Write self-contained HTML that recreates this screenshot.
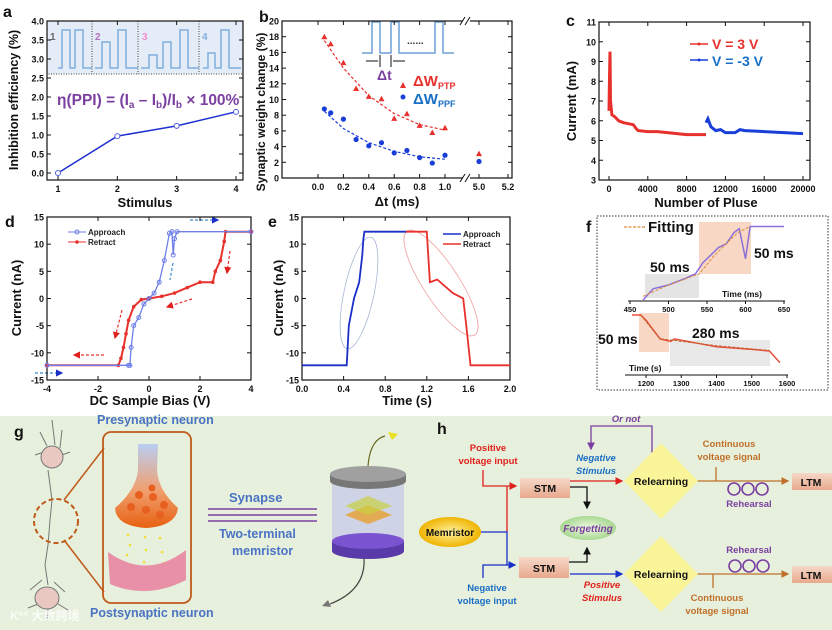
<!DOCTYPE html>
<html><head><meta charset="utf-8"><style>
body{margin:0;background:#fff}
svg{display:block;font-family:"Liberation Sans",Arial,sans-serif}
text{font-weight:bold}
</style></head><body>
<svg id="fig" width="832" height="630" viewBox="0 0 832 630" xmlns="http://www.w3.org/2000/svg">
<defs>
<linearGradient id="stmg" x1="0" y1="0" x2="0" y2="1"><stop offset="0" stop-color="#f6d8c8"/><stop offset="1" stop-color="#e8a98c"/></linearGradient>
<radialGradient id="memg"><stop offset="0" stop-color="#fff2a0"/><stop offset="1" stop-color="#f0b400"/></radialGradient>
<radialGradient id="forg"><stop offset="0" stop-color="#f2fbe8"/><stop offset="1" stop-color="#a8d890"/></radialGradient>
<linearGradient id="bul" x1="0" y1="0" x2="0" y2="1"><stop offset="0" stop-color="#b9cdf2"/><stop offset="0.55" stop-color="#f0a070"/><stop offset="1" stop-color="#e86010"/></linearGradient>
<marker id="arR" markerWidth="6" markerHeight="6" refX="5" refY="3" orient="auto"><path d="M0,0L6,3L0,6z" fill="#e0201c"/></marker>
<marker id="arB" markerWidth="6" markerHeight="6" refX="5" refY="3" orient="auto"><path d="M0,0L6,3L0,6z" fill="#1a2ec8"/></marker>
<marker id="arK" markerWidth="6" markerHeight="6" refX="5" refY="3" orient="auto"><path d="M0,0L6,3L0,6z" fill="#111"/></marker>
<marker id="arO" markerWidth="6" markerHeight="6" refX="5" refY="3" orient="auto"><path d="M0,0L6,3L0,6z" fill="#c0702a"/></marker>
<marker id="arP" markerWidth="6" markerHeight="6" refX="5" refY="3" orient="auto"><path d="M0,0L6,3L0,6z" fill="#7b3fa0"/></marker>
</defs>

<rect x="0" y="416" width="832" height="214" fill="#e6f0dc"/>

<g>
<rect x="47" y="21" width="196" height="53" fill="#e4ecf7" stroke="#444" stroke-dasharray="1,1.5"/>
<line x1="92" y1="21" x2="92" y2="74" stroke="#444" stroke-dasharray="1,1.5"/>
<line x1="138" y1="21" x2="138" y2="74" stroke="#444" stroke-dasharray="1,1.5"/>
<line x1="199" y1="21" x2="199" y2="74" stroke="#444" stroke-dasharray="1,1.5"/>
<path d="M58,68H62V30H70V68H75V30H83V68H92" fill="none" stroke="#80aee0" stroke-width="1.5"/>
<path d="M95,68H102V42H110V68H118V30H126V68H138" fill="none" stroke="#80aee0" stroke-width="1.5"/>
<path d="M141,68H149V55H157V68H163V42H171V68H180V30H188V68H199" fill="none" stroke="#80aee0" stroke-width="1.5"/>
<path d="M203,68H208V53H215V68H221V30H229V68H241" fill="none" stroke="#80aee0" stroke-width="1.5"/>
<text x="50" y="40" font-size="10" fill="#666">1</text>
<text x="95" y="40" font-size="10" fill="#b070c0">2</text>
<text x="142" y="40" font-size="10" fill="#f090d0">3</text>
<text x="202" y="40" font-size="10" fill="#80aee0">4</text>
</g>
<text x="57" y="105" font-size="15.5" fill="#7b3fa0">η(PPI) = (I<tspan font-size="10" dy="3">a</tspan><tspan dy="-3"> – I</tspan><tspan font-size="10" dy="3">b</tspan><tspan dy="-3">)/I</tspan><tspan font-size="10" dy="3">b</tspan><tspan dy="-3"> × 100%</tspan></text>

<g fill="none" stroke="#6fa0d8" stroke-width="1.5">
<path d="M362,53H372V22H380V53H391V22H399V53H435V22H443V53H454"/>
<line x1="366" y1="61" x2="378" y2="61" stroke="#111" stroke-width="1"/>
<line x1="393" y1="61" x2="405" y2="61" stroke="#111" stroke-width="1"/>
<line x1="380" y1="55" x2="380" y2="67" stroke="#111" stroke-width="1"/>
<line x1="391" y1="55" x2="391" y2="67" stroke="#111" stroke-width="1"/>
</g>
<text x="407" y="44" font-size="10" fill="#333">......</text>
<text x="377" y="80" font-size="14" fill="#7b3fa0">Δt</text>
<g>
<path d="M400,88l3,-6l3,6z" fill="#e8302c"/>
<text x="413" y="86" font-size="15" fill="#e8302c">ΔW<tspan font-size="9" dy="3">PTP</tspan></text>
<circle cx="403" cy="97" r="2.5" fill="#1a3ed8"/>
<text x="413" y="104" font-size="15" fill="#1a6fc4">ΔW<tspan font-size="9" dy="3">PPF</tspan></text>
</g>

<g>
<line x1="690" y1="44" x2="708" y2="44" stroke="#e8302c" stroke-width="1.5"/><circle cx="699" cy="44" r="1.5" fill="#e8302c"/>
<text x="712" y="49" font-size="14" fill="#e8302c">V = 3 V</text>
<line x1="690" y1="60" x2="708" y2="60" stroke="#1a3ed8" stroke-width="1.5"/><circle cx="699" cy="60" r="1.5" fill="#1a3ed8"/>
<text x="712" y="66" font-size="14" fill="#1a6fc4">V = -3 V</text>
</g>

<g font-size="8">
<line x1="68" y1="232" x2="86" y2="232" stroke="#6f7fe8"/><circle cx="77" cy="232" r="2" fill="none" stroke="#6f7fe8"/>
<text x="88" y="235" fill="#222">Approach</text>
<line x1="68" y1="242" x2="86" y2="242" stroke="#e8302c"/><circle cx="77" cy="242" r="1.8" fill="#e8302c"/>
<text x="88" y="245" fill="#222">Retract</text>
</g>
<g stroke-dasharray="3,2" stroke-width="1.2">
<line x1="190" y1="220" x2="218" y2="220" stroke="#3a8ad0" marker-end="url(#arB)"/>
<line x1="35" y1="373" x2="62" y2="373" stroke="#3a8ad0" marker-end="url(#arB)"/>
<line x1="104" y1="355" x2="74" y2="355" stroke="#e8302c" marker-end="url(#arR)"/>
<line x1="192" y1="299" x2="167" y2="307" stroke="#e8302c" marker-end="url(#arR)"/>
<line x1="230" y1="251" x2="227" y2="273" stroke="#e8302c" marker-end="url(#arR)"/>
<line x1="122" y1="310" x2="115" y2="338" stroke="#e8302c" marker-end="url(#arR)"/>
<line x1="173" y1="263" x2="170" y2="280" stroke="#3a8ad0"/>
</g>

<g font-size="8">
<line x1="443" y1="234" x2="461" y2="234" stroke="#1a2ec8" stroke-width="1.5"/>
<text x="463" y="237" fill="#222">Approach</text>
<line x1="443" y1="244" x2="461" y2="244" stroke="#e8302c" stroke-width="1.5"/>
<text x="463" y="247" fill="#222">Retract</text>
</g>
<ellipse cx="359" cy="293" rx="15" ry="57" transform="rotate(12 359 293)" fill="none" stroke="#aab8d8" stroke-width="0.8"/>
<ellipse cx="441" cy="283" rx="18" ry="62" transform="rotate(-33 441 283)" fill="none" stroke="#f0a0a0" stroke-width="0.8"/>

<rect x="597" y="216" width="231" height="174" fill="none" stroke="#333" stroke-dasharray="1.5,1.5"/>
<g>
<rect x="645" y="274" width="54" height="24" fill="#e4e4e4"/>
<rect x="699" y="222" width="52" height="52" fill="#f8d8c4"/>
<rect x="639" y="313" width="30" height="39" fill="#f8d8c4"/>
<rect x="670" y="340" width="100" height="26" fill="#e8e8e8"/>
</g>
<g id="fplot"></g>
<line x1="624" y1="227" x2="645" y2="227" stroke="#e08a3a" stroke-dasharray="3,1.5" stroke-width="1.2"/>
<text x="648" y="232" font-size="15" fill="#111">Fitting</text>
<text x="650" y="272" font-size="14" fill="#111">50 ms</text>
<text x="754" y="258" font-size="14" fill="#111">50 ms</text>
<text x="598" y="344" font-size="14" fill="#111">50 ms</text>
<text x="692" y="338" font-size="14" fill="#111">280 ms</text>
<text x="722" y="297" font-size="8.5" fill="#111">Time (ms)</text>
<text x="629" y="371" font-size="8.5" fill="#111">Time (s)</text>

<text x="14" y="437" font-size="16" fill="#111">g</text>
<g stroke="#777" fill="none" stroke-width="1">
<path d="M52,420L55,445M40,432L47,446M62,430L60,448M35,455L44,452M70,452L62,455M48,470L52,500L50,520L48,545L45,565L48,585"/>
<path d="M30,590L42,580M65,592L54,582M28,608L38,604M68,610L58,604M47,620L48,608"/>
<ellipse cx="52" cy="457" rx="11" ry="11" fill="#e8c8c0"/>
<ellipse cx="47" cy="598" rx="12" ry="11" fill="#e8c8c0"/>
<circle cx="56" cy="521" r="22" stroke="#c05a1a" stroke-width="2" stroke-dasharray="5,3"/>
<line x1="64" y1="500" x2="104" y2="448" stroke="#c05a1a" stroke-width="1.5"/>
<line x1="64" y1="540" x2="104" y2="592" stroke="#c05a1a" stroke-width="1.5"/>
</g>
<rect x="103" y="432" width="88" height="171" rx="8" fill="none" stroke="#c05a1a" stroke-width="1.8"/>
<path d="M138,444H158L157,470Q158,490 178,508Q176,526 146,528Q116,526 115,508Q136,490 138,470Z" fill="url(#bul)"/>
<g fill="#e86020">
<circle cx="139" cy="495" r="4"/><circle cx="153" cy="497" r="4"/><circle cx="164" cy="505" r="4"/><circle cx="131" cy="507" r="4"/><circle cx="146" cy="510" r="4"/><circle cx="160" cy="515" r="4"/><circle cx="152" cy="488" r="3.5"/>
</g>
<g fill="#f0e030">
<circle cx="128" cy="535" r="1.3"/><circle cx="130" cy="545" r="1.3"/><circle cx="127" cy="555" r="1.3"/><circle cx="145" cy="537" r="1.3"/><circle cx="146" cy="550" r="1.3"/><circle cx="144" cy="562" r="1.3"/><circle cx="160" cy="538" r="1.3"/><circle cx="162" cy="552" r="1.3"/><circle cx="164" cy="563" r="1.3"/>
</g>
<path d="M108,552Q147,580 186,550L186,580Q147,600 110,584Z" fill="#e890a8"/>
<text x="97" y="424" font-size="12.5" fill="#4a73c4">Presynaptic neuron</text>
<text x="90" y="617" font-size="12.5" fill="#4a73c4">Postsynaptic neuron</text>
<text x="10" y="620" font-size="12" fill="#fff" opacity="0.8" font-family="Liberation Sans, Noto Sans CJK SC, sans-serif">K°° 大数跨境</text>
<text x="229" y="502" font-size="13" fill="#4a73c4">Synapse</text>
<g stroke="#7b3fa0" stroke-width="1.5">
<line x1="208" y1="509" x2="317" y2="509"/><line x1="208" y1="515" x2="317" y2="515"/><line x1="208" y1="521" x2="317" y2="521"/></g>
<text x="219" y="538" font-size="12.5" fill="#4a73c4">Two-terminal</text>
<text x="232" y="555" font-size="12.5" fill="#4a73c4">memristor</text>
<g>
<rect x="332" y="478" width="72" height="66" fill="#c8cce8" opacity="0.8"/>
<path d="M332,541V551A36,8 0 0 0 404,551V541Z" fill="#5a3aa8"/>
<ellipse cx="368" cy="541" rx="36" ry="8" fill="#7a54d0"/>
<path d="M330,474V481A38,8 0 0 0 406,481V474Z" fill="#777"/>
<ellipse cx="368" cy="474" rx="38" ry="8" fill="#a0a0a0"/>
<path d="M345,515L368,505L392,515L368,524Z" fill="#e8a030" opacity="0.8"/>
<path d="M345,506L368,496L392,506L368,515Z" fill="#c8d040" opacity="0.7"/>
<path d="M368,466Q370,440 385,436" stroke="#6a6a20" fill="none" stroke-width="1.2"/>
<path d="M364,558Q366,590 330,604" stroke="#444" fill="none" stroke-width="1.2"/>
<path d="M388,432l10,2l-6,6z" fill="#e8e020"/>
<path d="M328,600l-6,6l9,1z" fill="#777"/>
</g>

<text x="437" y="434" font-size="16" fill="#111">h</text>
<g fill="none" stroke-width="1.3">
<path d="M652,453V426H591V449" stroke="#7b3fa0" marker-end="url(#arP)"/>
<path d="M483,470V486H516" stroke="#e0201c" marker-end="url(#arR)"/>
<path d="M507,486V532" stroke="#e0201c"/>
<path d="M480,532H507V565" stroke="#1a2ec8"/>
<path d="M483,578V565H515" stroke="#1a2ec8" marker-end="url(#arB)"/>
<path d="M570,481H622" stroke="#e0201c" marker-end="url(#arR)"/>
<path d="M570,574H622" stroke="#1a2ec8" marker-end="url(#arB)"/>
<path d="M570,487H587V508" stroke="#111" marker-end="url(#arK)"/>
<path d="M568,562H587V548" stroke="#111" marker-end="url(#arK)"/>
<path d="M697,481H788" stroke="#c0702a" marker-end="url(#arO)"/>
<path d="M697,574H788" stroke="#c0702a" marker-end="url(#arO)"/>
<path d="M716,467V481M713,574V588" stroke="#c0702a"/>
</g>
<g fill="none" stroke="#7b3fa0" stroke-width="1.6">
<circle cx="734" cy="489" r="6"/><circle cx="748" cy="489" r="6"/><circle cx="762" cy="489" r="6"/>
<circle cx="735" cy="566" r="6"/><circle cx="749" cy="566" r="6"/><circle cx="763" cy="566" r="6"/>
</g>
<rect x="520" y="478" width="50" height="20" fill="url(#stmg)"/>
<text x="545" y="492" font-size="10.5" fill="#111" text-anchor="middle">STM</text>
<rect x="519" y="557" width="50" height="21" fill="url(#stmg)"/>
<text x="544" y="572" font-size="10.5" fill="#111" text-anchor="middle">STM</text>
<ellipse cx="450" cy="532" rx="31" ry="15" fill="url(#memg)"/>
<text x="450" y="536" font-size="10" fill="#111" text-anchor="middle">Memristor</text>
<ellipse cx="588" cy="528" rx="28" ry="12" fill="url(#forg)"/>
<text x="588" y="532" font-size="10" font-style="italic" fill="#7b3fa0" text-anchor="middle">Forgetting</text>
<path d="M661,443L698,481L661,519L624,481Z" fill="#fbf59a"/>
<text x="661" y="485" font-size="10.5" fill="#111" text-anchor="middle">Relearning</text>
<path d="M661,536L698,574L661,612L624,574Z" fill="#fbf59a"/>
<text x="661" y="578" font-size="10.5" fill="#111" text-anchor="middle">Relearning</text>
<rect x="792" y="473" width="40" height="17" fill="url(#stmg)"/>
<text x="811" y="486" font-size="10.5" fill="#111" text-anchor="middle">LTM</text>
<rect x="792" y="566" width="40" height="17" fill="url(#stmg)"/>
<text x="811" y="579" font-size="10.5" fill="#111" text-anchor="middle">LTM</text>
<g font-size="9.5" text-anchor="middle">
<text x="626" y="422" fill="#7b3fa0" font-style="italic">Or not</text>
<text x="488" y="451" fill="#e0201c">Positive</text><text x="488" y="464" fill="#e0201c">voltage input</text>
<text x="487" y="591" fill="#1a6fc4">Negative</text><text x="487" y="604" fill="#1a6fc4">voltage input</text>
<text x="596" y="461" fill="#1a6fc4" font-style="italic">Negative</text><text x="596" y="474" fill="#1a6fc4" font-style="italic">Stimulus</text>
<text x="602" y="588" fill="#e0201c" font-style="italic">Positive</text><text x="602" y="601" fill="#e0201c" font-style="italic">Stimulus</text>
<text x="729" y="447" fill="#c0702a">Continuous</text><text x="729" y="460" fill="#c0702a">voltage signal</text>
<text x="717" y="601" fill="#c0702a">Continuous</text><text x="717" y="614" fill="#c0702a">voltage signal</text>
<text x="749" y="507" fill="#7b3fa0">Rehearsal</text>
<text x="749" y="553" fill="#7b3fa0">Rehearsal</text>
</g>
</svg>
<script>
const NS='http://www.w3.org/2000/svg';
const svg=document.getElementById('fig');
function mk(tag,attrs,name,parent){
  const el=document.createElementNS(NS,tag);
  for(const k in attrs) el.setAttribute(k,attrs[k]);
  
  
  (parent||svg).appendChild(el);
  return el;
}
function txt(x,y,s,size,name,extra){
  const t=mk('text',Object.assign({x:x,y:y,'font-size':size,fill:'#111'},extra||{}),name);
  t.textContent=s; return t;
}
function lin(x0,x1,v0,v1){return v=>x0+(v-v0)*(x1-x0)/(v1-v0);}
function poly(pts,fx,fy,attrs,name,parent){
  const d=pts.map((p,i)=>(i?'L':'M')+fx(p[0]).toFixed(1)+','+fy(p[1]).toFixed(1)).join('');
  return mk('path',Object.assign({d:d,fill:'none'},attrs),name,parent);
}
function frame(L,T,R,B,name){mk('rect',{x:L,y:T,width:R-L,height:B-T,fill:'none',stroke:'#111','stroke-width':1.2},name);}
function yTicks(vals,fy,L,R,fmt,name,sz){
  vals.forEach(v=>{const y=fy(v);
    mk('line',{x1:L,x2:L+4,y1:y,y2:y,stroke:'#111'},name+'-tick');
    mk('line',{x1:R,x2:R-4,y1:y,y2:y,stroke:'#111'},name+'-tick-right');
    txt(L-3,y+3.5,fmt(v),sz||9.5,name+'-label',{'text-anchor':'end'});});
}
function xTicks(vals,fx,B,T,fmt,name,sz){
  vals.forEach(v=>{const x=fx(v);
    mk('line',{x1:x,x2:x,y1:B,y2:B-4,stroke:'#111'},name+'-tick');
    mk('line',{x1:x,x2:x,y1:T,y2:T+4,stroke:'#111'},name+'-tick-top');
    txt(x,B+12,fmt(v),sz||9.5,name+'-label',{'text-anchor':'middle'});});
}

const aStimulus=[1,2,3,4];
const aEfficiency=[0.0,0.97,1.24,1.61];
const aYTicks=[0,0.5,1,1.5,2,2.5,3,3.5,4];
const bPtpDt=[0.05,0.1,0.2,0.3,0.4,0.5,0.6,0.7,0.8,0.9,1.0,5.0];
const bPtpVal=[18,17.1,14.7,11.4,10.4,10.1,7.6,8.2,6.7,5.8,6.4,3.1];
const bPpfDt=[0.05,0.1,0.2,0.3,0.4,0.5,0.6,0.7,0.8,0.9,1.0,5.0];
const bPpfVal=[8.8,8.3,7.5,4.9,4.1,4.5,3.2,3.5,2.6,1.9,2.9,2.1];
const bFitDt=[0.05,0.2,0.4,0.6,0.8,1.0];
const bPtpFit=[17.5,14,10.5,8.2,6.8,6.1];
const bPpfFit=[8.5,6.3,4.5,3.4,2.7,2.4];
const bXTicks=[0,0.2,0.4,0.6,0.8,1.0,5.0,5.2];
const bYTicks=[0,2,4,6,8,10,12,14,16,18,20];
const cPosPulse=[0,50,100,150,300,600,1000,1500,2000,2500,2800,3000,4000,5000,6000,7000,8000,9000,10000];
const cPosCurrent=[6.5,8.2,9.5,7.0,6.3,6.2,6.0,5.9,5.85,5.8,5.6,5.5,5.45,5.45,5.4,5.35,5.3,5.3,5.3];
const cNegPulse=[10000,10200,10500,11000,11500,12000,13000,13500,14000,16000,18000,20000];
const cNegCurrent=[5.9,6.1,5.7,5.5,5.55,5.4,5.4,5.55,5.5,5.45,5.4,5.35];
const cXTicks=[0,4000,8000,12000,16000,20000];
const cYTicks=[3,4,5,6,7,8,9,10,11];
const dApproachV=[-4,-0.8,-0.75,-0.7,-0.6,-0.4,-0.2,0,0.2,0.4,0.6,0.8,0.9,0.95,1.0,1.1,4];
const dApproachI=[-12.3,-12.3,-12.3,-9,-5,-3.5,-1,0,1,3,7,12,12.3,8,11,12.3,12.3];
const dRetractV=[4,3,2.95,2.8,2.6,2.5,2,1.5,1,0.5,0,-0.3,-0.6,-0.8,-0.9,-1.0,-1.1,-1.2,-4];
const dRetractI=[12.3,12.3,10.5,7,5,3,3,2,1,0.4,0,-0.2,-1.5,-4,-6.5,-9,-11,-12.3,-12.3];
const dXTicks=[-4,-2,0,2,4];
const dYTicks=[-15,-10,-5,0,5,10,15];
const eApproachT=[0,0.43,0.45,0.5,0.55,0.58,0.59,0.6,1.0];
const eApproachI=[-12.3,-12.3,-5,0,3,8,11,12.3,12.3];
const eRetractT=[1.0,1.2,1.23,1.3,1.45,1.55,1.58,1.62,2.0];
const eRetractI=[12.3,12.3,3,3.5,1,0,-5,-12.3,-12.3];
const eXTicks=[0,0.4,0.8,1.2,1.6,2.0];
const fUpT=[467,480,500,520,535,545,555,565,575,585,592,600,606,612,650];
const fUpV=[0.0,0.15,0.2,0.28,0.35,0.5,0.6,0.7,0.75,0.9,0.95,0.55,0.98,0.98,0.98];
const fUpFitT=[467,500,540,560,590,606];
const fUpFitV=[0.05,0.2,0.35,0.6,0.9,0.98];
const fLoT=[1160,1185,1200,1240,1270,1280,1400,1500,1550,1580];
const fLoV=[1.0,1.0,0.9,0.55,0.5,0.55,0.4,0.35,0.32,0.1];
const fLoFitT=[1185,1240,1280,1400,1550];
const fLoFitV=[1.0,0.55,0.52,0.42,0.33];
const fUpTicks=[450,500,550,600,650];
const fLoTicks=[1200,1300,1400,1500,1600];

const zip=(a,b)=>a.map((v,i)=>[v,b[i]]);

(function(){
  const L=47,R=243,T=21,B=180;
  const fx=lin(58,236,1,4), fy=lin(173,21,0,4);
  frame(L,T,R,B,'panel-a-axes');
  yTicks(aYTicks,fy,L,R,v=>v.toFixed(1),'a-y',9);
  xTicks(aStimulus,fx,B,T,v=>v,'a-x',9);
  poly(zip(aStimulus,aEfficiency),fx,fy,{stroke:'#2030d0','stroke-width':1.5},'inhibition-line');
  aStimulus.forEach((s,i)=>mk('circle',{cx:fx(s),cy:fy(aEfficiency[i]),r:2.5,fill:'#fff',stroke:'#5060e0'},'inhibition-point'));
  txt(145,207,'Stimulus',13,'a-x-title',{'text-anchor':'middle'});
  txt(0,0,'Inhibition efficiency (%)',12.5,'a-y-title',{'text-anchor':'middle',transform:'translate(18,100) rotate(-90)'});
  txt(3,17,'a',16,'panel-label-a');
})();
(function(){
  const L=282,R=512,T=21,B=178;
  const fx=v=>v<=2?318+v*127:479+(v-5)*145, fy=lin(178,21,0,20);
  frame(L,T,R,B,'panel-b-axes');
  mk('rect',{x:463,y:14,width:7,height:170,fill:'#fff'},'axis-break-gap');
  mk('path',{d:'M460,25l5,-8M465,25l5,-8M460,182l5,-8M465,182l5,-8',stroke:'#111',fill:'none'},'axis-break-marks');
  yTicks(bYTicks,fy,L,R,v=>v,'b-y',9);
  xTicks(bXTicks,fx,B,T,v=>v.toFixed(1),'b-x',9);
  poly(zip(bFitDt,bPtpFit),fx,fy,{stroke:'#e8302c','stroke-dasharray':'3,2','stroke-width':1.2},'ptp-fit');
  poly(zip(bFitDt,bPpfFit),fx,fy,{stroke:'#1a3ed8','stroke-dasharray':'3,2','stroke-width':1.2},'ppf-fit');
  bPtpDt.forEach((d,i)=>{const x=fx(d),y=fy(bPtpVal[i]);mk('path',{d:`M${x-3},${y+2.5}L${x},${y-3}L${x+3},${y+2.5}Z`,fill:'#e8302c'},'ptp-point');});
  bPpfDt.forEach((d,i)=>mk('circle',{cx:fx(d),cy:fy(bPpfVal[i]),r:2.6,fill:'#1a3ed8'},'ppf-point'));
  txt(397,206,'Δt (ms)',13,'b-x-title',{'text-anchor':'middle'});
  txt(0,0,'Synaptic weight change (%)',12,'b-y-title',{'text-anchor':'middle',transform:'translate(265,112) rotate(-90)'});
  txt(259,22,'b',16,'panel-label-b');
})();
(function(){
  const L=599,R=810,T=22,B=180;
  const fx=lin(609,803,0,20000), fy=lin(180,22,3,11);
  frame(L,T,R,B,'panel-c-axes');
  yTicks(cYTicks,fy,L,R,v=>v,'c-y',9);
  xTicks(cXTicks,fx,B,T,v=>v,'c-x',9);
  poly(zip(cPosPulse,cPosCurrent),fx,fy,{stroke:'#e8302c','stroke-width':3},'positive-voltage-series');
  poly(zip(cNegPulse,cNegCurrent),fx,fy,{stroke:'#1a3ed8','stroke-width':3},'negative-voltage-series');
  txt(706,207,'Number of Pluse',13,'c-x-title',{'text-anchor':'middle'});
  txt(0,0,'Current (mA)',13,'c-y-title',{'text-anchor':'middle',transform:'translate(576,101) rotate(-90)'});
  txt(566,26,'c',16,'panel-label-c');
})();
(function(){
  const L=47,R=251,T=217,B=380;
  const fx=lin(47,251,-4,4), fy=lin(380,217,-15,15);
  frame(L,T,R,B,'panel-d-axes');
  yTicks(dYTicks,fy,L,R,v=>v,'d-y',9);
  xTicks(dXTicks,fx,B,T,v=>v,'d-x',9);
  poly(zip(dRetractV,dRetractI),fx,fy,{stroke:'#e8302c','stroke-width':2},'retract-curve');
  dRetractV.forEach((v,i)=>mk('circle',{cx:fx(v),cy:fy(dRetractI[i]),r:1.8,fill:'#e8302c'},'retract-point'));
  poly(zip(dApproachV,dApproachI),fx,fy,{stroke:'#6f7fe8','stroke-width':1.3},'approach-curve');
  dApproachV.forEach((v,i)=>mk('circle',{cx:fx(v),cy:fy(dApproachI[i]),r:2,fill:'none',stroke:'#6f7fe8'},'approach-point'));
  txt(150,405,'DC Sample Bias (V)',13,'d-x-title',{'text-anchor':'middle'});
  txt(0,0,'Current (nA)',13,'d-y-title',{'text-anchor':'middle',transform:'translate(21,298) rotate(-90)'});
  txt(5,227,'d',16,'panel-label-d');
})();
(function(){
  const L=302,R=510,T=217,B=380;
  const fx=lin(302,510,0,2), fy=lin(380,217,-15,15);
  frame(L,T,R,B,'panel-e-axes');
  yTicks(dYTicks,fy,L,R,v=>v,'e-y',9);
  xTicks(eXTicks,fx,B,T,v=>v.toFixed(1),'e-x',9);
  poly(zip(eApproachT,eApproachI),fx,fy,{stroke:'#1a2ec8','stroke-width':1.8},'approach-trace');
  poly(zip(eRetractT,eRetractI),fx,fy,{stroke:'#e8302c','stroke-width':1.8},'retract-trace');
  txt(407,405,'Time (s)',13,'e-x-title',{'text-anchor':'middle'});
  txt(0,0,'Current (nA)',13,'e-y-title',{'text-anchor':'middle',transform:'translate(283,298) rotate(-90)'});
  txt(268,227,'e',16,'panel-label-e');
})();
(function(){
  const g=document.getElementById('fplot');
  const fxU=lin(630,784,450,650), fyU=lin(300,225,0,1);
  const fxL=lin(646,787,1200,1600), fyL=lin(368,315,0,1);
  mk('line',{x1:628,x2:785,y1:301,y2:301,stroke:'#111'},'f-upper-x-axis',g);
  mk('line',{x1:625,x2:788,y1:375,y2:375,stroke:'#111'},'f-lower-x-axis',g);
  fUpTicks.forEach(v=>{mk('line',{x1:fxU(v),x2:fxU(v),y1:301,y2:304,stroke:'#111'},'f-upper-tick',g);
    txt(fxU(v),312,v,7.5,'f-upper-tick-label',{'text-anchor':'middle'});});
  fLoTicks.forEach(v=>{mk('line',{x1:fxL(v),x2:fxL(v),y1:375,y2:378,stroke:'#111'},'f-lower-tick',g);
    txt(fxL(v),386,v,7.5,'f-lower-tick-label',{'text-anchor':'middle'});});
  poly(zip(fUpT,fUpV),fxU,fyU,{stroke:'#8a70d8','stroke-width':1.5},'f-upper-response',g);
  poly(zip(fUpFitT,fUpFitV),fxU,fyU,{stroke:'#e08a3a','stroke-dasharray':'3,1.5','stroke-width':1},'f-upper-fit',g);
  poly(zip(fLoT,fLoV),fxL,fyL,{stroke:'#e85040','stroke-width':1.5},'f-lower-response',g);
  poly(zip(fLoFitT,fLoFitV),fxL,fyL,{stroke:'#c06020','stroke-dasharray':'3,1.5','stroke-width':1},'f-lower-fit',g);
  txt(586,232,'f',16,'panel-label-f');
})();
</script>
</body></html>
